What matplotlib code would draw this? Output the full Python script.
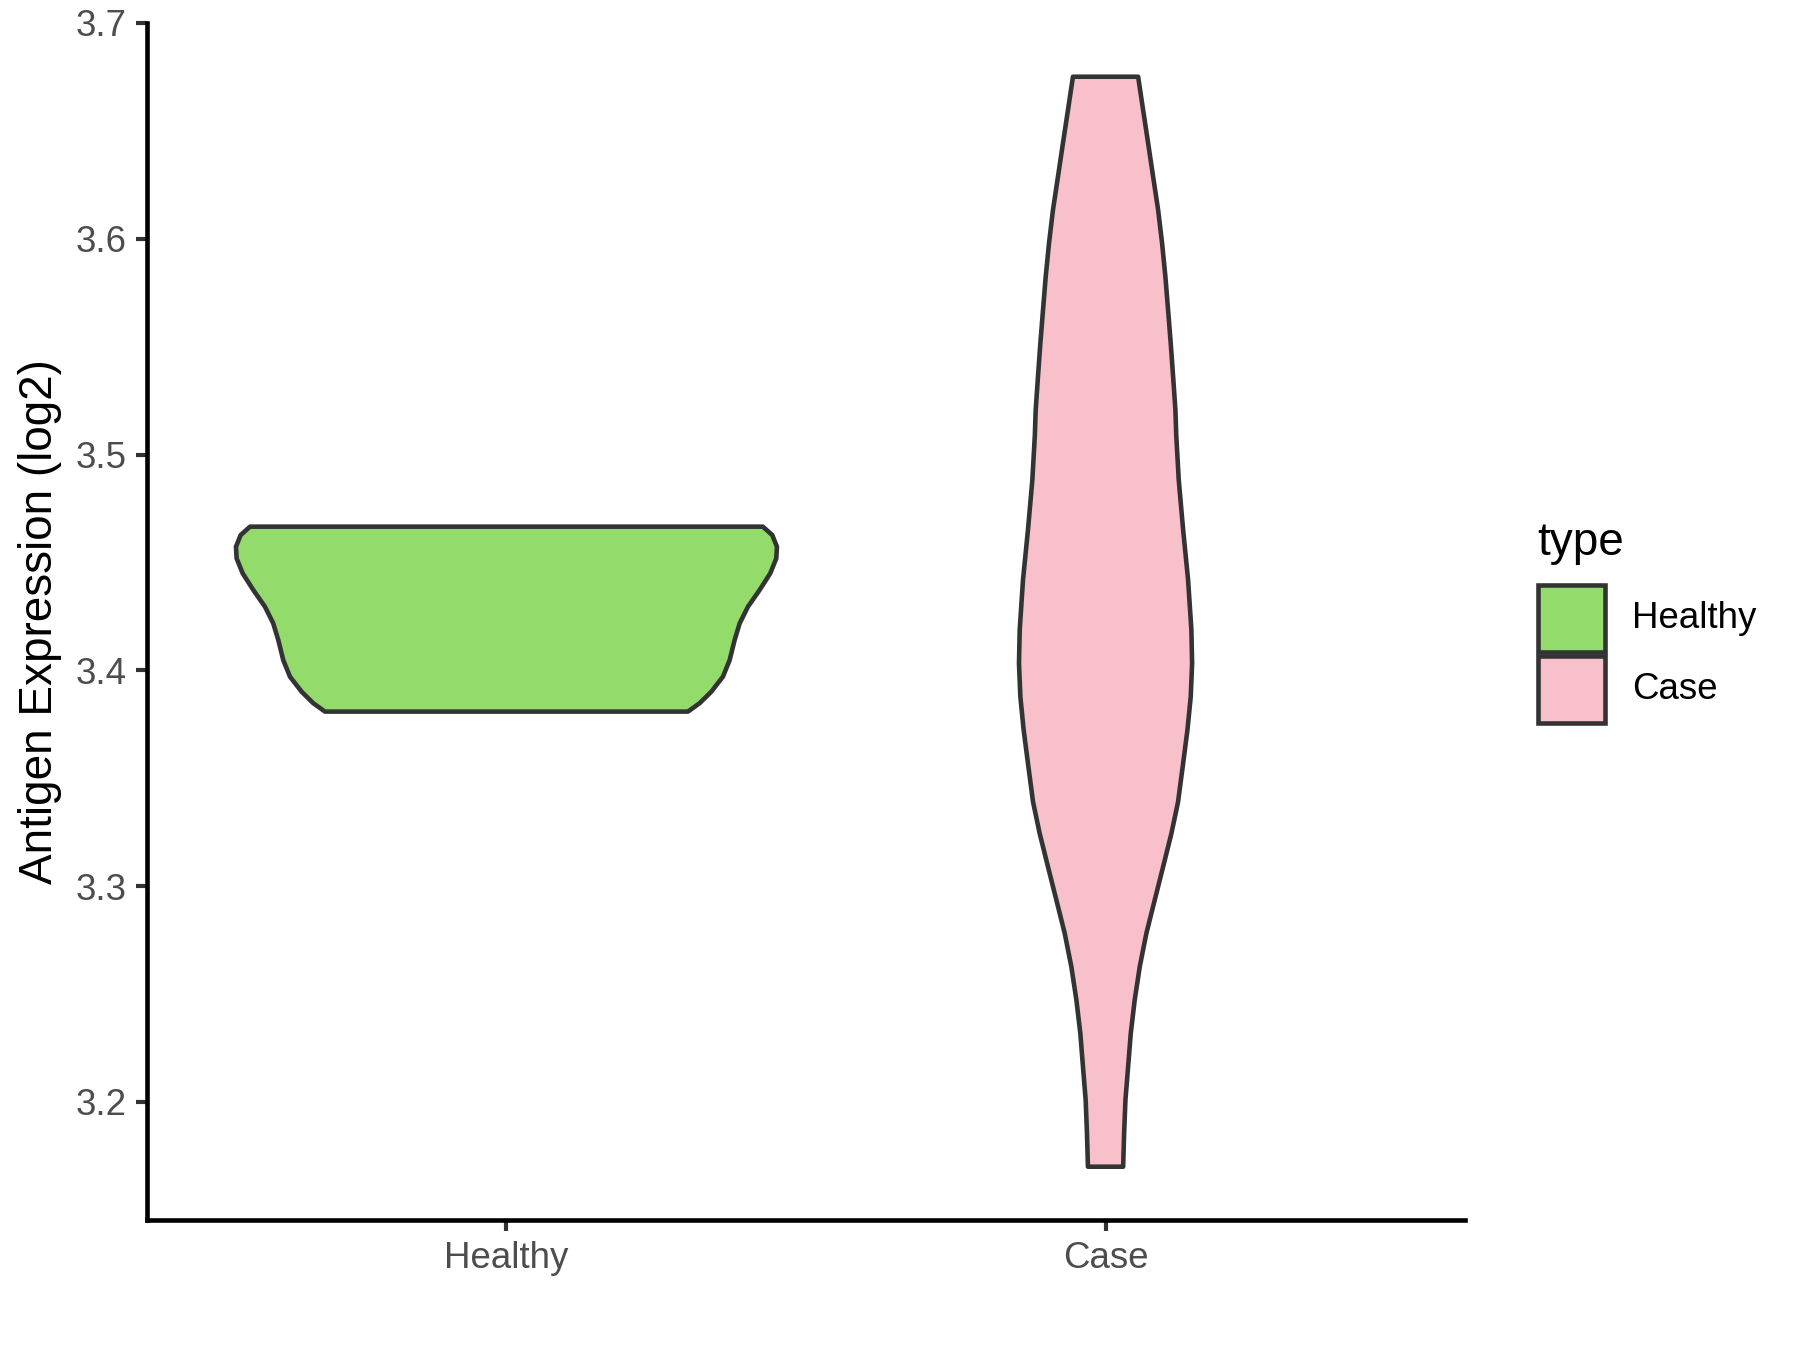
import matplotlib
matplotlib.use("Agg")
import matplotlib.pyplot as plt
from matplotlib.patches import Rectangle
import numpy as np

plt.rcParams['font.family'] = ['Liberation Sans', 'DejaVu Sans']

# ---- data ----
categories = ["Healthy", "Case"]
colors = ["#93DB6A", "#F8C0CB"]

# violin profiles: y value and half-width (in category units), top -> bottom
healthy_y = [3.4666, 3.4627, 3.4573, 3.4519, 3.4450, 3.4373, 3.4295, 3.4218,
             3.4141, 3.4048, 3.3971, 3.3901, 3.3848, 3.3809]
healthy_w = [0.428, 0.4437, 0.4515, 0.4504, 0.4404, 0.4227, 0.4031, 0.3893,
             0.3809, 0.3726, 0.3614, 0.3419, 0.3225, 0.3030]

case_y = [3.6751, 3.6597, 3.6443, 3.6288, 3.6133, 3.5979, 3.5824, 3.5670,
          3.5516, 3.5361, 3.5207, 3.5090, 3.4882, 3.4651, 3.4419, 3.4187,
          3.4033, 3.3878, 3.3724, 3.3569, 3.3390, 3.3245, 3.3090, 3.2936,
          3.2782, 3.2627, 3.2473, 3.2318, 3.2164, 3.2009, 3.1855, 3.1700]
case_w = [0.0544, 0.0627, 0.0711, 0.0794, 0.0878, 0.0944, 0.0999, 0.1044,
          0.1088, 0.1128, 0.1166, 0.1180, 0.1222, 0.1295, 0.1378, 0.1433,
          0.1445, 0.1422, 0.1367, 0.1295, 0.1210, 0.1100, 0.0961, 0.0821,
          0.0682, 0.0571, 0.0487, 0.0421, 0.0377, 0.0332, 0.0310, 0.0294]

yticks = [3.2, 3.3, 3.4, 3.5, 3.6, 3.7]
ylabel = "Antigen Expression (log2)"
legend_title = "type"

profiles = [(healthy_y, healthy_w), (case_y, case_w)]

# ---- figure ----
W, H = 1800, 1350
fig = plt.figure(figsize=(6, 4.5), dpi=300)
ax = fig.add_axes([147 / W, 1 - 1220 / H, (1465 - 147) / W, (1220 - 23) / H])

edge = "#333333"
for i, (cat, col, (py, pw)) in enumerate(zip(categories, colors, profiles)):
    c = i + 1
    py = np.asarray(py)
    pw = np.asarray(pw)
    xs = np.concatenate([c - pw, (c + pw)[::-1]])
    ys = np.concatenate([py, py[::-1]])
    ax.fill(xs, ys, facecolor=col, edgecolor=edge, linewidth=1.1,
            joinstyle='round', zorder=2)

ax.set_xlim(0.4, 2.6)
ax.set_ylim(3.1453, 3.7)
ax.set_xticks([1, 2])
ax.set_xticklabels(categories)
ax.set_yticks(yticks)
ax.set_yticklabels([f"{v:.1f}" for v in yticks])

for s in ["top", "right"]:
    ax.spines[s].set_visible(False)
for s in ["left", "bottom"]:
    ax.spines[s].set_color("black")
    ax.spines[s].set_linewidth(1.1)

ax.tick_params(axis='both', length=2.75 * 1.0, width=1.0, color=edge,
               labelsize=8.8, labelcolor="#4D4D4D", pad=2.2)

fig.text(40 / W, 1 - 622 / H, ylabel, rotation=90, ha='center', va='center',
         fontsize=11, color='black')

# ---- legend (manual) ----
fig.text(1537 / W, 1 - 555 / H, legend_title, ha='left', va='baseline',
         fontsize=11, color='black')
key_left, key_size = 1538, 67
key_tops = [585, 656]
for cat, col, top in zip(categories, colors, key_tops):
    fig.add_artist(Rectangle((key_left / W, 1 - (top + key_size) / H),
                             key_size / W, key_size / H,
                             transform=fig.transFigure, facecolor=col,
                             edgecolor=edge, linewidth=1.1))
    fig.text(1632 / W, 1 - (top + key_size / 2) / H, cat, ha='left',
             va='center', fontsize=8.8, color='black')

fig.savefig("out.png", dpi=300, facecolor='white')
